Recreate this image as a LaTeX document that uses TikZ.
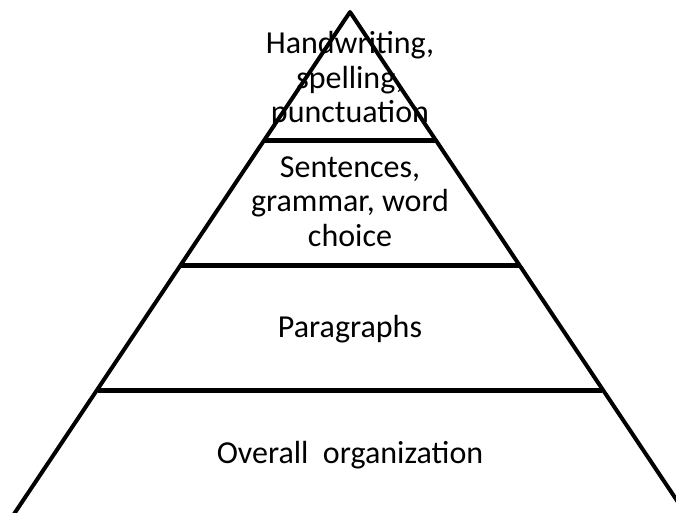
\documentclass[tikz,border=0pt]{standalone}
\usepackage{fontspec}
\setmainfont{Carlito}
\begin{document}
\begin{tikzpicture}[x=1pt,y=-1pt,
  side/.style={line width=4pt, line join=round, line cap=round},
  tier/.style={line width=5pt},
  lbl/.style={font=\fontsize{32}{34.5}\selectfont, align=center, anchor=base, inner sep=0pt}]
\useasboundingbox (0,0) rectangle (676,513);
% outline of the pyramid
\coordinate (apex) at (350,12);
\coordinate (bl) at (10,520);
\coordinate (br) at (690,520);
\draw[side] (bl) -- (apex) -- (br);
% level dividers
\coordinate (t1l) at (264,140.5);  \coordinate (t1r) at (436,140.5);
\coordinate (t2l) at (180.5,265.5); \coordinate (t2r) at (519.5,265.5);
\coordinate (t3l) at (98,390);     \coordinate (t3r) at (602,390);
\draw[tier] (t1l) -- (t1r);
\draw[tier] (t2l) -- (t2r);
\draw[tier] (t3l) -- (t3r);
% level labels (anchored on the baseline of the last line)
\node[lbl] (hand) at (350,123) {Handwriting,\\spelling,\\punctuation};
\node[lbl] (sent) at (350,246) {Sentences,\\grammar, word\\choice};
\node[lbl] (para) at (350,337) {Paragraphs};
\node[lbl] (over) at (350,463) {Overall\ \ organization};
\end{tikzpicture}
\end{document}
